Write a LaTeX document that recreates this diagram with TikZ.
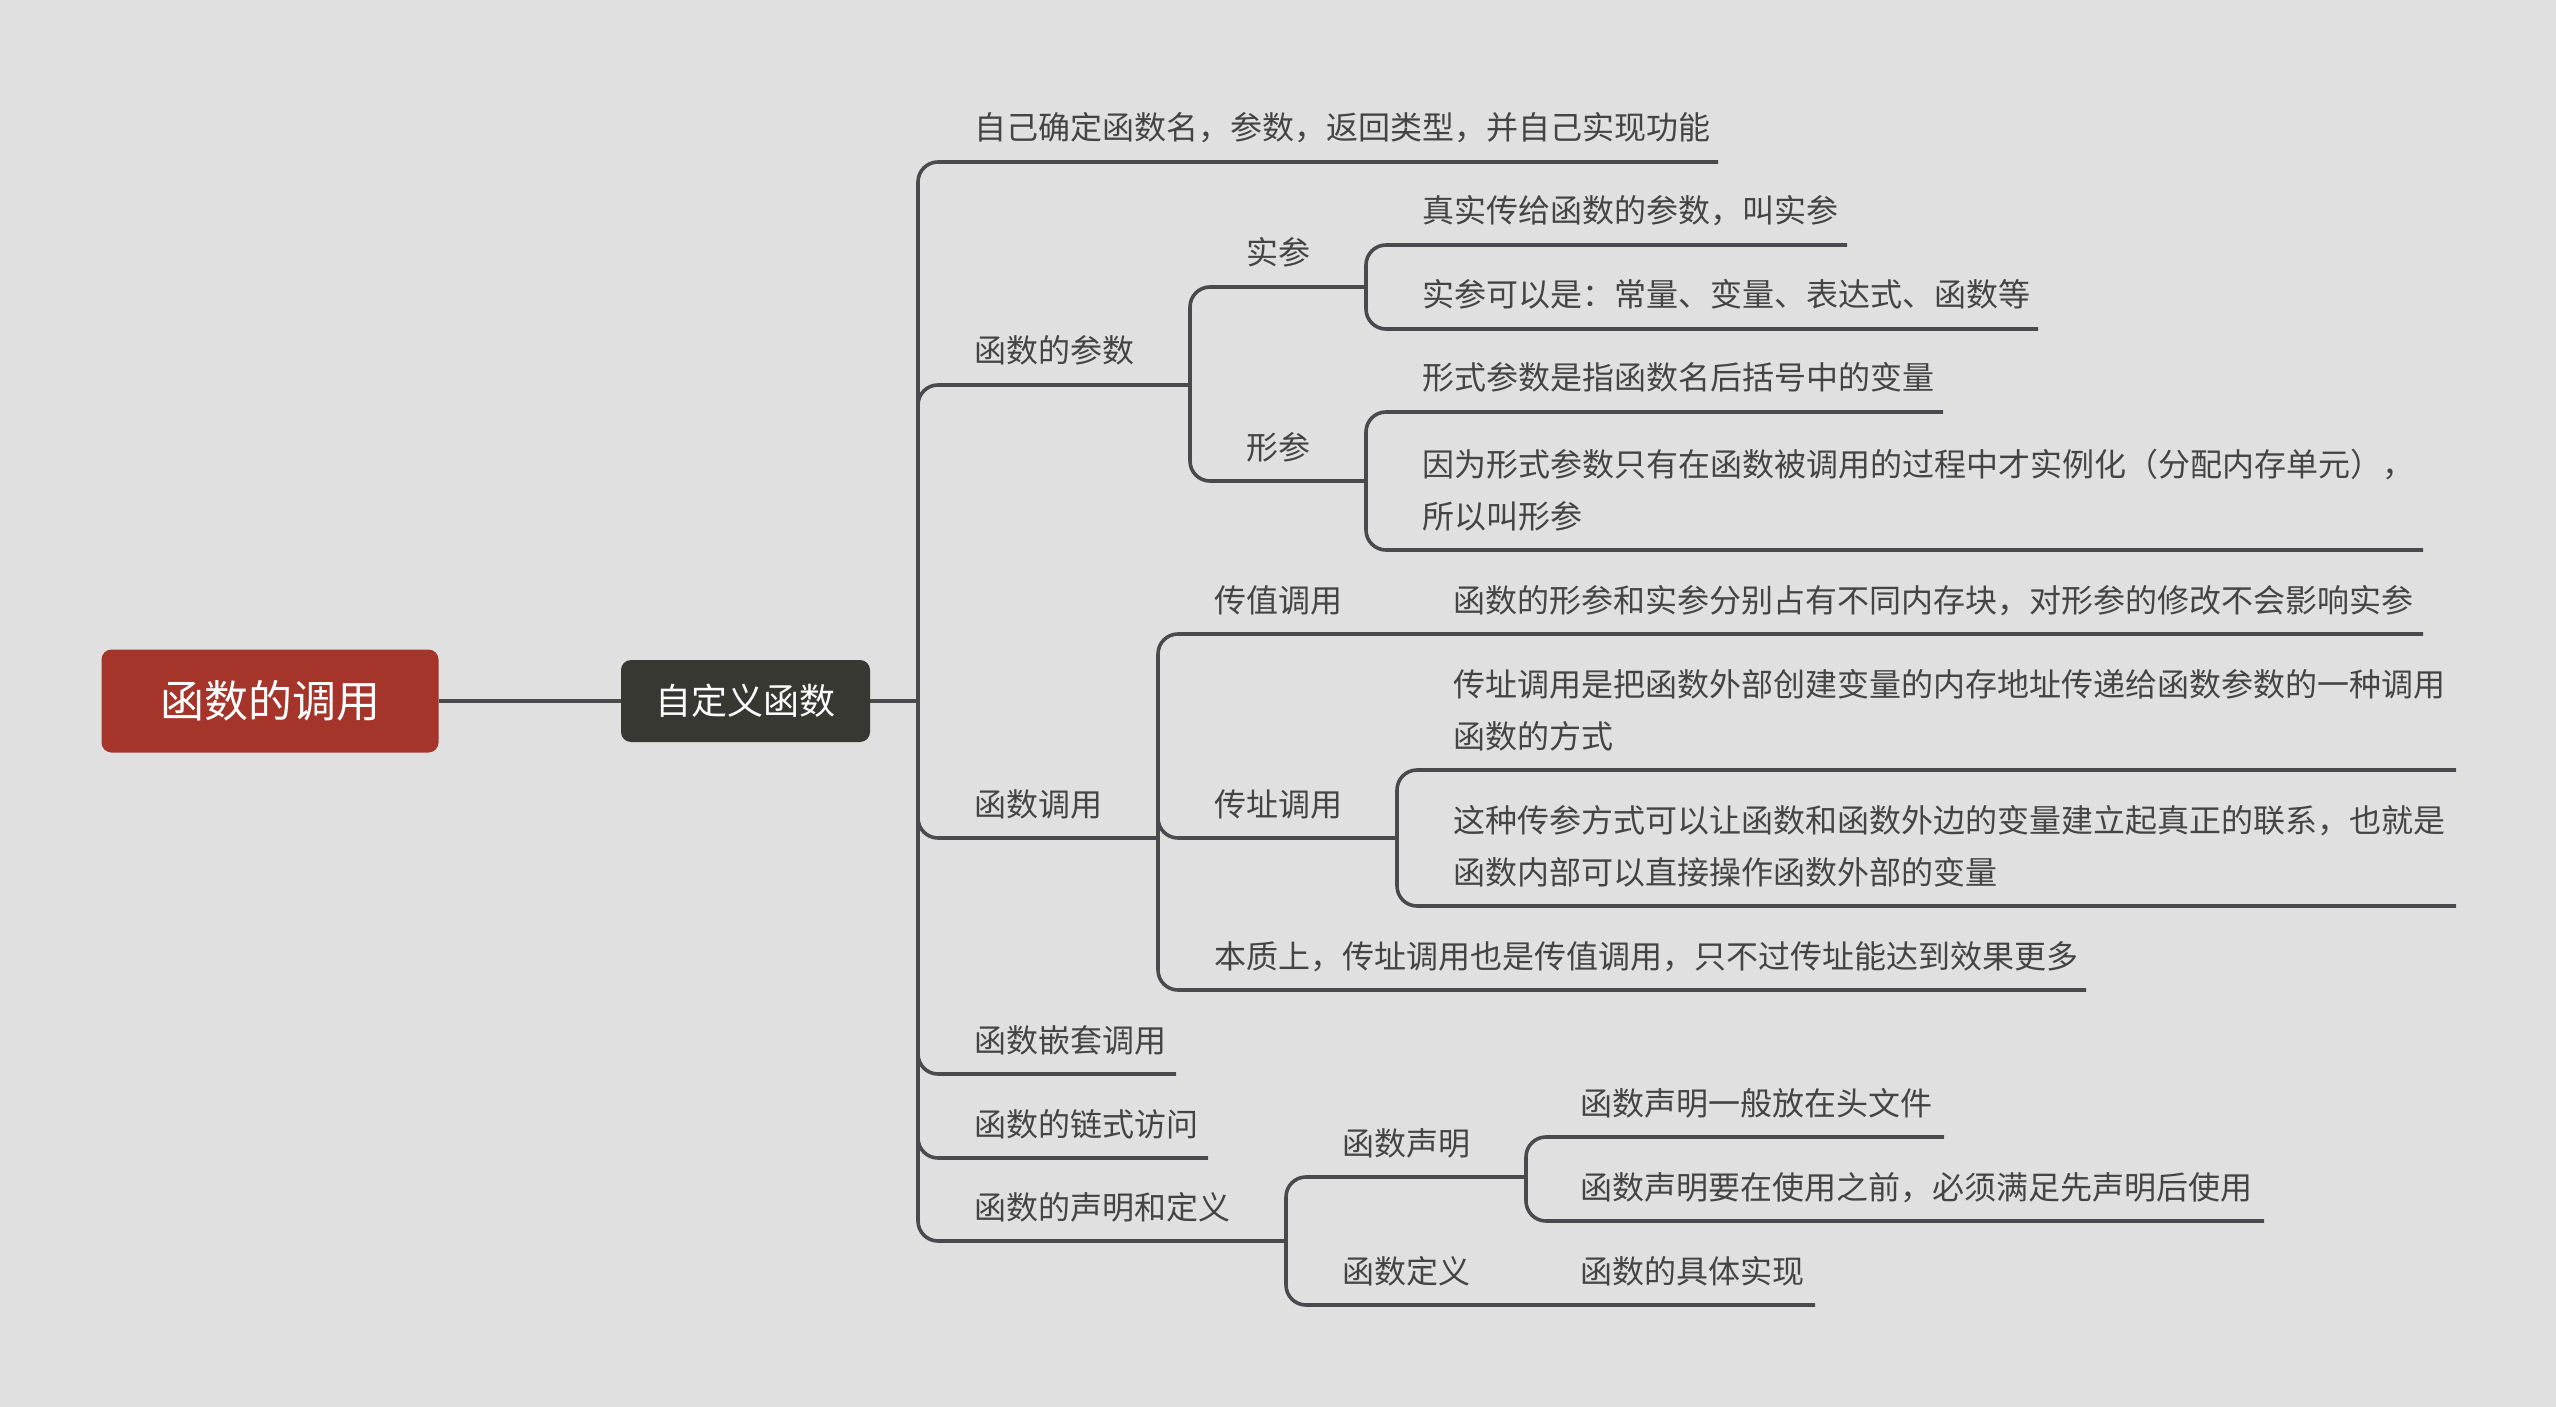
\documentclass[tikz,border=0pt]{standalone}
\usepackage{fontspec}
\setmainfont{Noto Sans CJK SC}
\definecolor{bgc}{HTML}{E0E0E0}
\definecolor{linec}{HTML}{4A4A4E}
\definecolor{textc}{HTML}{444444}
\definecolor{rootc}{HTML}{A5352A}
\definecolor{subc}{HTML}{373832}
\begin{document}
\begin{tikzpicture}[x=0.5pt,y=-0.5pt,
  branch/.style={draw=linec, line width=1.8pt, rounded corners=10pt},
  leaf/.style={anchor=base west, inner sep=0pt, outer sep=0pt, text=textc,
    font=\fontsize{16}{26}\selectfont, align=left},
  rootbox/.style={fill=rootc, rounded corners=5pt, text=white,
    minimum width=168.5pt, minimum height=51.5pt, inner sep=0pt,
    font=\fontsize{22}{26}\selectfont},
  subbox/.style={fill=subc, rounded corners=5pt, text=white,
    minimum width=124.5pt, minimum height=41pt, inner sep=0pt,
    font=\fontsize{18}{22}\selectfont}]
\fill[bgc] (0,0) rectangle (2556,1407);
\useasboundingbox (0,0) rectangle (2556,1407);

% central topics
\node[rootbox] (root) at (270,701) {函数的调用};
\node[subbox] (sub) at (745.5,701) {自定义函数};

% junctions and line ends
\coordinate (j0) at (918,701);
\coordinate (a1) at (1718,162);
\coordinate (a2) at (1190,385);
\coordinate (a3) at (1158,838);
\coordinate (a4) at (1176,1074);
\coordinate (a5) at (1208,1158);
\coordinate (a6) at (1286,1241);
\coordinate (b1) at (1366,287);
\coordinate (b2) at (1366,481);
\coordinate (c1) at (1847,245);
\coordinate (c2) at (2038,329);
\coordinate (c3) at (1943,412);
\coordinate (c4) at (2423,550);
\coordinate (d1) at (2423,634);
\coordinate (d2) at (1397,838);
\coordinate (d3) at (2086,990);
\coordinate (e1) at (2456,770);
\coordinate (e2) at (2456,906);
\coordinate (f1) at (1526,1177);
\coordinate (f2) at (1815,1305);
\coordinate (g1) at (1944,1137);
\coordinate (g2) at (2264,1221);

% connectors
\draw[branch] (root.east) -- (sub.west);
\draw[branch] (sub.east) -- (j0);
\foreach \e in {a1,a2,a3,a4,a5,a6} \draw[branch] (j0) |- (\e);
\foreach \e in {b1,b2} \draw[branch] (a2) |- (\e);
\foreach \e in {c1,c2} \draw[branch] (b1) |- (\e);
\foreach \e in {c3,c4} \draw[branch] (b2) |- (\e);
\foreach \e in {d1,d2,d3} \draw[branch] (a3) |- (\e);
\foreach \e in {e1,e2} \draw[branch] (d2) |- (\e);
\foreach \e in {f1,f2} \draw[branch] (a6) |- (\e);
\foreach \e in {g1,g2} \draw[branch] (f1) |- (\e);

% level 2 labels
\node[leaf] (ta1) at (974,140) {自己确定函数名，参数，返回类型，并自己实现功能};
\node[leaf] (ta2) at (974,363) {函数的参数};
\node[leaf] (ta3) at (974,816) {函数调用};
\node[leaf] (ta4) at (974,1052) {函数嵌套调用};
\node[leaf] (ta5) at (974,1136) {函数的链式访问};
\node[leaf] (ta6) at (974,1219) {函数的声明和定义};

% parameters
\node[leaf] (tb1) at (1246,265) {实参};
\node[leaf] (tb2) at (1246,459) {形参};
\node[leaf] (tc1) at (1422,223) {真实传给函数的参数，叫实参};
\node[leaf] (tc2) at (1422,307) {实参可以是：常量、变量、表达式、函数等};
\node[leaf] (tc3) at (1422,390) {形式参数是指函数名后括号中的变量};
\node[leaf] (tc4) at (1422,528) {因为形式参数只有在函数被调用的过程中才实例化（分配内存单元），\\所以叫形参};

% calls
\node[leaf] (td1) at (1214,612) {传值调用};
\node[leaf] (td1c) at (1453,612) {函数的形参和实参分别占有不同内存块，对形参的修改不会影响实参};
\node[leaf] (td2) at (1214,816) {传址调用};
\node[leaf] (td3) at (1214,968) {本质上，传址调用也是传值调用，只不过传址能达到效果更多};
\node[leaf] (te1) at (1453,748) {传址调用是把函数外部创建变量的内存地址传递给函数参数的一种调用\\函数的方式};
\node[leaf] (te2) at (1453,884) {这种传参方式可以让函数和函数外边的变量建立起真正的联系，也就是\\函数内部可以直接操作函数外部的变量};

% declaration and definition
\node[leaf] (tf1) at (1342,1155) {函数声明};
\node[leaf] (tf2) at (1342,1283) {函数定义};
\node[leaf] (tf2c) at (1580,1283) {函数的具体实现};
\node[leaf] (tg1) at (1580,1115) {函数声明一般放在头文件};
\node[leaf] (tg2) at (1580,1199) {函数声明要在使用之前，必须满足先声明后使用};
\end{tikzpicture}
\end{document}
